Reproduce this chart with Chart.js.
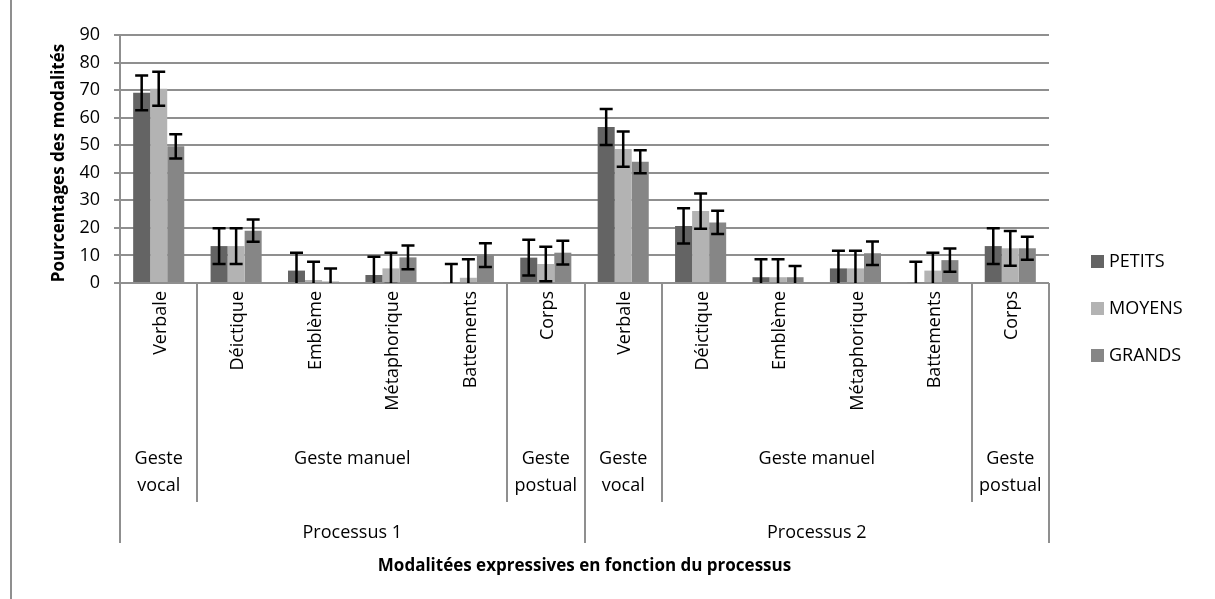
<!DOCTYPE html>
<html>
<head>
<meta charset="utf-8">
<script src="https://cdn.jsdelivr.net/npm/chart.js@4"></script>
<style>
	body { margin: 0; background: #fff; }
	#wrap { width: 1215px; height: 599px; position: relative; }
</style>
</head>
<body>
<div id="wrap"><canvas id="chart"></canvas></div>
<script>
//categories, two processes of six modalities each
const categories = ['Verbale', 'Déictique', 'Emblème', 'Métaphorique', 'Battements', 'Corps',
	'Verbale', 'Déictique', 'Emblème', 'Métaphorique', 'Battements', 'Corps'];
const seriesNames = ['PETITS', 'MOYENS', 'GRANDS'];

const petits = [69, 13.4, 4.5, 2.9, 0.3, 9.2, 56.6, 20.7, 2.1, 5.3, 0.3, 13.4];
const moyens = [70.5, 13.4, 1.1, 5.3, 1.9, 6.9, 48.6, 26.1, 2.1, 5.3, 4.5, 12.6];
const grands = [49.6, 19, 0.5, 9.3, 10.1, 11, 44, 22, 2.1, 10.8, 8.3, 12.6];

//error bar half lengths
const petitsErr = [6.3, 6.5, 6.5, 6.6, 6.6, 6.5, 6.5, 6.4, 6.5, 6.4, 7.4, 6.5];
const moyensErr = [6.2, 6.5, 6.6, 5.7, 6.7, 6.3, 6.4, 6.4, 6.5, 6.4, 6.5, 6.3];
const grandsErr = [4.4, 4, 4.8, 4.3, 4.3, 4.3, 4.2, 4.2, 4.1, 4.3, 4.2, 4.2];

//second level of the axis: label lines, first and last category index
const groupLabels = [['Geste', 'vocal'], ['Geste manuel'], ['Geste', 'postual'],
	['Geste', 'vocal'], ['Geste manuel'], ['Geste', 'postual']];
const groupStart = [0, 1, 5, 6, 7, 11];
const groupEnd = [0, 4, 5, 6, 10, 11];

//third level
const processLabels = ['Processus 1', 'Processus 2'];
const processStart = [0, 6];
const processEnd = [5, 11];

const yTicks = [0, 10, 20, 30, 40, 50, 60, 70, 80, 90];
const yTitle = 'Pourcentages des modalités';
const xTitle = 'Modalitées expressives en fonction du processus';

const colors = ['#646464', '#b3b3b3', '#868686'];
const errs = [petitsErr, moyensErr, grandsErr];
const lineGray = '#8f8f8f';
const font = '"Open Sans", "Noto Sans", sans-serif';

//#region plugins
const errorBarPlugin = {
	id: 'errorBars',
	afterDatasetsDraw(chart) {
		const ctx = chart.ctx;
		const area = chart.chartArea;
		const y = chart.scales.y;
		ctx.save();
		ctx.beginPath();
		ctx.rect(area.left, area.top - 20, area.right - area.left, area.bottom - area.top + 20);
		ctx.clip();
		ctx.strokeStyle = '#000';
		ctx.lineWidth = 2.5;
		chart.data.datasets.forEach((ds, i) => {
			const meta = chart.getDatasetMeta(i);
			meta.data.forEach((bar, j) => {
				const v = ds.data[j];
				const e = errs[i][j];
				const yTop = y.getPixelForValue(v + e);
				const yBot = y.getPixelForValue(v - e);
				ctx.beginPath();
				ctx.moveTo(bar.x, yTop);
				ctx.lineTo(bar.x, yBot);
				ctx.moveTo(bar.x - 6.5, yTop);
				ctx.lineTo(bar.x + 6.5, yTop);
				ctx.moveTo(bar.x - 6.5, yBot);
				ctx.lineTo(bar.x + 6.5, yBot);
				ctx.stroke();
			});
		});
		ctx.restore();
	}
};

const axisPlugin = {
	id: 'multiAxis',
	afterDraw(chart) {
		const ctx = chart.ctx;
		const area = chart.chartArea;
		const x = chart.scales.x;
		const edge = (k) => {
			if (k <= 0) return area.left;
			if (k >= categories.length) return area.right;
			return (x.getPixelForValue(k - 1) + x.getPixelForValue(k)) / 2;
		};
		ctx.save();
		//chart frame, left side
		ctx.strokeStyle = lineGray;
		ctx.lineWidth = 2;
		ctx.beginPath();
		ctx.moveTo(11, 0);
		ctx.lineTo(11, 599);
		ctx.stroke();

		//group dividers
		ctx.beginPath();
		groupStart.forEach((s) => {
			if (processStart.includes(s)) return;
			const px = Math.round(edge(s));
			ctx.moveTo(px, area.bottom);
			ctx.lineTo(px, 502);
		});
		//process dividers
		processStart.concat([categories.length]).forEach((s) => {
			const px = Math.round(edge(s));
			ctx.moveTo(px, area.bottom);
			ctx.lineTo(px, 543);
		});
		ctx.stroke();

		//rotated category labels
		ctx.fillStyle = '#000';
		ctx.font = '18px ' + font;
		categories.forEach((c, k) => {
			ctx.save();
			ctx.translate(x.getPixelForValue(k) + 2, area.bottom + 8);
			ctx.rotate(-Math.PI / 2);
			ctx.textAlign = 'right';
			ctx.textBaseline = 'middle';
			ctx.fillText(c, 0, 0);
			ctx.restore();
		});

		//group labels
		ctx.textAlign = 'center';
		ctx.textBaseline = 'middle';
		groupLabels.forEach((lines, g) => {
			const cx = (edge(groupStart[g]) + edge(groupEnd[g] + 1)) / 2;
			lines.forEach((t, li) => ctx.fillText(t, cx, 459 + li * 27));
		});

		//process labels
		processLabels.forEach((t, p) => {
			const cx = (edge(processStart[p]) + edge(processEnd[p] + 1)) / 2;
			ctx.fillText(t, cx, 533);
		});

		//axis titles
		ctx.font = 'bold 17px ' + font;
		ctx.fillText(xTitle, (area.left + area.right) / 2, 566);
		ctx.save();
		ctx.translate(59, 163);
		ctx.rotate(-Math.PI / 2);
		ctx.fillText(yTitle, 0, 0);
		ctx.restore();

		//legend
		ctx.font = '18px ' + font;
		ctx.textAlign = 'left';
		seriesNames.forEach((n, i) => {
			const ly = 262 + i * 47;
			ctx.fillStyle = colors[i];
			ctx.fillRect(1091, ly - 7, 13, 13);
			ctx.fillStyle = '#000';
			ctx.fillText(n, 1109, ly);
		});
		ctx.restore();
	}
};
//#endregion

const chart = new Chart(document.getElementById('chart'), {
	type: 'bar',
	data: {
		labels: categories,
		datasets: [
			{ label: seriesNames[0], data: petits, backgroundColor: colors[0] },
			{ label: seriesNames[1], data: moyens, backgroundColor: colors[1] },
			{ label: seriesNames[2], data: grands, backgroundColor: colors[2] }
		]
	},
	options: {
		responsive: true,
		maintainAspectRatio: false,
		animation: false,
		devicePixelRatio: 1,
		categoryPercentage: 0.66,
		barPercentage: 1.0,
		layout: { padding: { left: 10, right: 166, top: 35, bottom: 316 } },
		plugins: { legend: { display: false }, tooltip: { enabled: false } },
		scales: {
			x: {
				ticks: { display: false },
				grid: { display: false, drawTicks: false },
				border: { display: false },
				afterFit: (scale) => { scale.height = 0; }
			},
			y: {
				min: 0,
				max: 90,
				afterBuildTicks: (scale) => { scale.ticks = yTicks.map((v) => ({ value: v })); },
				afterFit: (scale) => { scale.width = 110; },
				ticks: { color: '#000', font: { family: font, size: 18 }, padding: 14 },
				grid: { color: lineGray, lineWidth: 2, tickLength: 6 },
				border: { display: true, color: lineGray, width: 2 }
			}
		}
	},
	plugins: [errorBarPlugin, axisPlugin]
});
</script>
</body>
</html>
